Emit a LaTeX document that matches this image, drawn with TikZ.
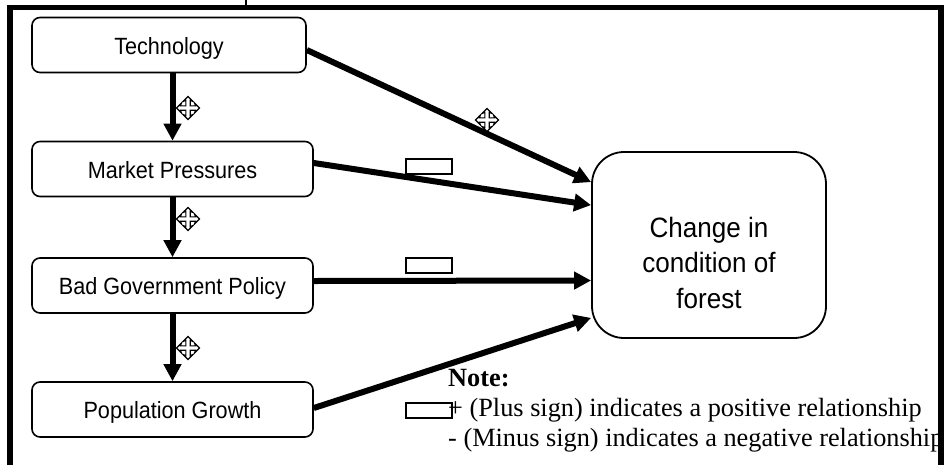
\documentclass[tikz,border=0pt]{standalone}
\usepackage{fontspec}
\setmainfont{Liberation Serif}
\newfontfamily\boxfont[FakeStretch=0.92]{Liberation Sans}
\newfontfamily\bigfont[FakeStretch=0.93]{Liberation Sans}
\usetikzlibrary{arrows.meta}
\begin{document}
\begin{tikzpicture}[x=1pt,y=-1pt,
  factor/.style={draw, line width=1.6pt, rounded corners=8pt, inner sep=0pt,
    minimum height=55pt, text height=18pt, text depth=0pt,
    font=\boxfont\fontsize{23.5}{28}\selectfont},
  outcome/.style={draw, line width=1.8pt, rounded corners=32pt, inner sep=0pt,
    minimum width=234pt, minimum height=186pt},
  outcometext/.style={inner sep=0pt, align=center,
    font=\bigfont\fontsize{28}{35.5}\selectfont},
  conn/.style={line width=6pt, -{Triangle[length=17pt,width=17pt]}},
  minusbox/.style={draw, fill=white, line width=1.5pt, inner sep=0pt,
    minimum width=46pt, minimum height=15pt},
  notetext/.style={inner sep=0pt, align=left,
    font=\fontsize{26.3}{30}\selectfont},
  plussign/.pic={
    \draw[line width=1.1pt, fill=white, line join=miter]
      (11.5,0) -- (6.5,5) -- (7.5,2.2) -- (2.2,2.2) -- (2.2,7.5) -- (5,6.5)
      -- (0,11.5) -- (-5,6.5) -- (-2.2,7.5) -- (-2.2,2.2) -- (-7.5,2.2)
      -- (-6.5,5) -- (-11.5,0) -- (-6.5,-5) -- (-7.5,-2.2) -- (-2.2,-2.2)
      -- (-2.2,-7.5) -- (-5,-6.5) -- (0,-11.5) -- (5,-6.5) -- (2.2,-7.5)
      -- (2.2,-2.2) -- (7.5,-2.2) -- (6.5,-5) -- cycle;
  }]
\useasboundingbox (0,0) rectangle (950,464);
\clip (0,0) rectangle (950,464);
\fill[white] (0,0) rectangle (950,464);

% driver boxes
\node[factor, minimum width=274pt] (tech) at (169,45)    {Technology};
\node[factor, minimum width=281pt] (mp)   at (172.5,169) {Market Pressures};
\node[factor, minimum width=281pt] (bgp)  at (172.5,285.5) {Bad Government Policy};
\node[factor, minimum width=281pt] (pop)  at (172.5,409.5) {Population Growth};

% outcome box
\node[outcome] (forest) at (709,245) {};
\node[outcometext] (forestlabel) at (709,262.5) {Change in\\condition of\\forest};

% chain between the drivers
\draw[conn] (mp.north |- tech.south) -- (mp.north);
\draw[conn] (mp.south) -- (bgp.north);
\draw[conn] (bgp.south) -- (pop.north);

% drivers into the outcome
\draw[conn] ([yshift=-5pt]tech.east) -- ([yshift=-31pt]forest.north west);
\draw[conn] ([yshift=6pt]mp.east) -- ([yshift=-54pt]forest.north west);
\draw[conn] ([yshift=4.5pt]bgp.east) -- ([yshift=-35.5pt]forest.west);
\draw[conn] ([yshift=1.5pt]pop.east) -- ([yshift=21pt]forest.south west);

% relationship signs
\pic at (188,108) {plussign};
\pic at (188,219) {plussign};
\pic at (188,348) {plussign};
\pic at (487,120) {plussign};
\node[minusbox] (neg1) at (429,166.5) {};
\node[minusbox] (neg2) at (429,265.5) {};
\node[minusbox] (neg3) at (429,410.5) {};

% legend
\node[notetext, anchor=west] (note) at (448,411)
  {\textbf{Note:}\\+ (Plus sign) indicates a positive relationship\\- (Minus sign) indicates a negative relationship};

% outer frame
\draw[line width=5.5pt, line join=miter] (10,475) -- (10,7.5) -- (941,7.5) -- (941,475);
\draw[line width=2pt] (246,0) -- (246,5);
\end{tikzpicture}
\end{document}
